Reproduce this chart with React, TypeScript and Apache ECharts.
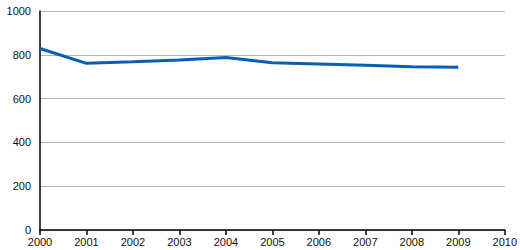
import React, { useEffect, useRef } from "react";
import * as echarts from "echarts";

const years = [2000, 2001, 2002, 2003, 2004, 2005, 2006, 2007, 2008, 2009];
const values = [829, 761, 768, 776, 788, 764, 758, 752, 746, 743];
const xMin = 2000;
const xMax = 2010;
const yMax = 1000;
const yStep = 200;

export default function App() {
  const ref = useRef<HTMLDivElement>(null);
  useEffect(() => {
    if (!ref.current) return;
    const chart = echarts.init(ref.current, null, { renderer: "svg" });
    const font = "'Liberation Sans', Arial, sans-serif";
    chart.setOption({
      animation: false,
      backgroundColor: "#ffffff",
      grid: { left: 40, right: 11, top: 11, bottom: 20, containLabel: false },
      xAxis: {
        type: "value",
        min: xMin,
        max: xMax,
        interval: 1,
        axisLine: { show: true, lineStyle: { color: "#000", width: 1.5 } },
        axisTick: { show: true, length: 5, lineStyle: { color: "#000", width: 1.5 } },
        axisLabel: {
          color: "#111",
          fontSize: 11,
          fontFamily: font,
          margin: 6,
          formatter: (v: number) => String(v),
        },
        splitLine: { show: false },
      },
      yAxis: {
        type: "value",
        min: 0,
        max: yMax,
        interval: yStep,
        axisLine: { show: true, lineStyle: { color: "#000", width: 1.5 } },
        axisTick: { show: false },
        axisLabel: {
          color: "#111",
          fontSize: 11,
          fontFamily: font,
          margin: 9,
          formatter: (v: number) => String(v),
        },
        splitLine: { show: true, lineStyle: { color: "#b4b4b4", width: 1 } },
      },
      series: [
        {
          type: "line",
          data: years.map((y, i) => [y, values[i]]),
          showSymbol: false,
          lineStyle: { color: "#0a5fb4", width: 3 },
          itemStyle: { color: "#0a5fb4" },
        },
      ],
    });
    return () => chart.dispose();
  }, []);
  return (
    <div
      ref={ref}
      style={{ position: "fixed", left: 0, top: 0, width: 520, height: 250, background: "#fff" }}
    />
  );
}
